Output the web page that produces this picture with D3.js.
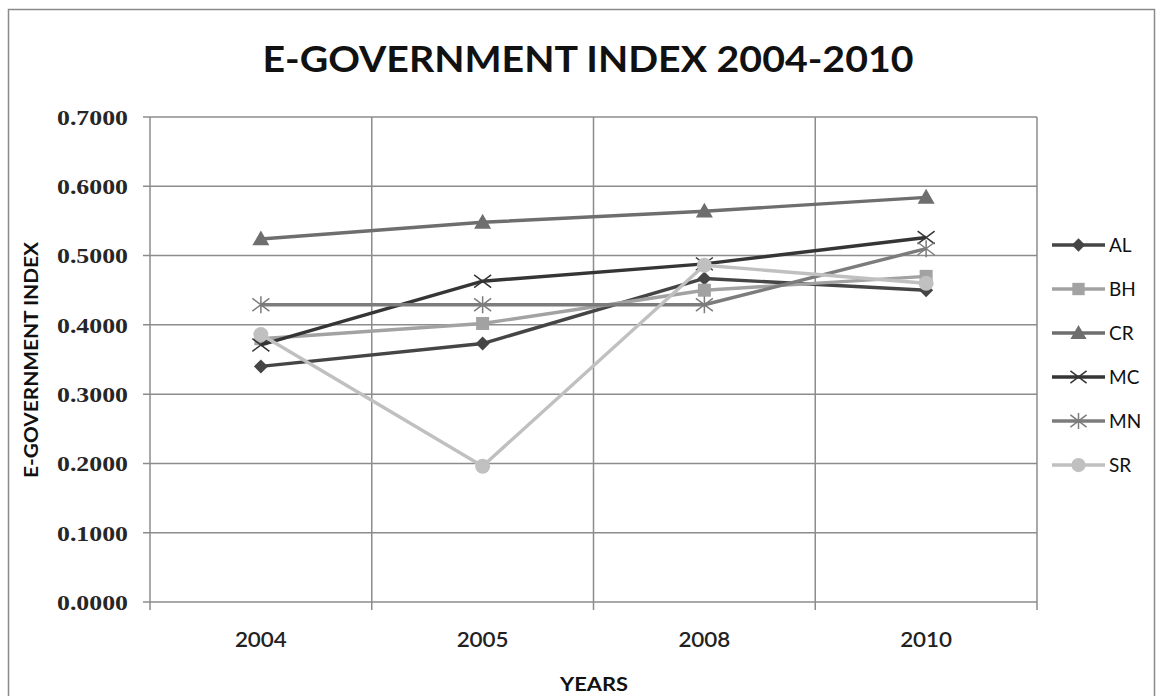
<!DOCTYPE html>
<html><head><meta charset="utf-8">
<script src="https://cdn.jsdelivr.net/npm/d3@7"></script>
<style>body{margin:0;background:#fff;}svg{display:block;}</style>
</head><body>
<script>
const years = ["2004","2005","2008","2010"];
const yTicks = [0,0.1,0.2,0.3,0.4,0.5,0.6,0.7];
const seriesNames = ["AL","BH","CR","MC","MN","SR"];
const AL = [0.340, 0.373, 0.467, 0.450];
const BH = [0.380, 0.402, 0.450, 0.470];
const CR = [0.524, 0.548, 0.564, 0.584];
const MC = [0.371, 0.463, 0.488, 0.526];
const MN = [0.429, 0.429, 0.429, 0.510];
const SR = [0.386, 0.196, 0.486, 0.460];
const seriesValues = [AL, BH, CR, MC, MN, SR];
const colors = ["#454545","#a2a2a2","#6e6e6e","#353535","#7c7c7c","#c0c0c0"];
const shapes = ["diamond","square","triangle","x","asterisk","circle"];

const W = 1163, H = 696;
const svg = d3.select("body").append("svg").attr("width", W).attr("height", H);
svg.append("rect").attr("x", 8.5).attr("y", 9.5).attr("width", 1146).attr("height", 700)
  .attr("fill", "#fff").attr("stroke", "#8a8a8a").attr("stroke-width", 1.5);

const plot = {left:150, right:1037, top:117, bottom:602};
const x = d3.scaleBand().domain(years).range([plot.left, plot.right]);
const y = d3.scaleLinear().domain([0, 0.7]).range([plot.bottom, plot.top]);

// horizontal gridlines
svg.append("g").selectAll("line").data(yTicks).join("line")
  .attr("x1", plot.left - 7).attr("x2", plot.right)
  .attr("y1", d => y(d)).attr("y2", d => y(d))
  .attr("stroke", "#8c8c8c").attr("stroke-width", 1.5);
// vertical gridlines at band boundaries
const bounds = years.map(d => x(d)).concat([x(years[years.length-1]) + x.bandwidth()]);
svg.append("g").selectAll("line").data(bounds).join("line")
  .attr("x1", d => d).attr("x2", d => d)
  .attr("y1", plot.top).attr("y2", plot.bottom + 8)
  .attr("stroke", "#8c8c8c").attr("stroke-width", 1.5);

// y tick labels
svg.append("g").selectAll("text").data(yTicks).join("text")
  .attr("x", 128).attr("y", d => y(d)).attr("dy", "0.36em")
  .attr("text-anchor", "end")
  .attr("font-family", "'Liberation Serif', 'DejaVu Serif', serif").attr("font-weight", "bold")
  .attr("font-size", 22).attr("fill", "#262626")
  .attr("textLength", 71).attr("lengthAdjust", "spacingAndGlyphs")
  .text(d => d3.format(".4f")(d));

// x tick labels
svg.append("g").selectAll("text").data(years).join("text")
  .attr("x", d => x(d) + x.bandwidth()/2).attr("y", 647)
  .attr("text-anchor", "middle")
  .attr("font-family", "Lato, 'DejaVu Sans', sans-serif").attr("font-weight", "600")
  .attr("font-size", 21).attr("fill", "#222")
  .attr("textLength", 52).attr("lengthAdjust", "spacingAndGlyphs")
  .text(d => d);

// title
svg.append("text").attr("x", 588).attr("y", 72).attr("text-anchor", "middle")
  .attr("font-family", "Lato, 'Open Sans', sans-serif").attr("font-weight", "bold")
  .attr("font-size", 37).attr("fill", "#111")
  .attr("textLength", 651).attr("lengthAdjust", "spacingAndGlyphs")
  .text("E-GOVERNMENT INDEX 2004-2010");

// axis titles
svg.append("text").attr("x", 594).attr("y", 691).attr("text-anchor", "middle")
  .attr("font-family", "Lato, 'Open Sans', sans-serif").attr("font-weight", "bold")
  .attr("font-size", 18).attr("fill", "#111")
  .attr("textLength", 68).attr("lengthAdjust", "spacingAndGlyphs")
  .text("YEARS");
svg.append("text").attr("transform", "translate(38,360) rotate(-90)").attr("text-anchor", "middle")
  .attr("font-family", "Lato, 'Open Sans', sans-serif").attr("font-weight", "bold")
  .attr("font-size", 18).attr("fill", "#111")
  .attr("textLength", 236).attr("lengthAdjust", "spacingAndGlyphs")
  .text("E-GOVERNMENT INDEX");

function drawMarker(g, shape, color, cx, cy, s) {
  s = s || 1;
  if (shape === "diamond") {
    const r = 7*s;
    g.append("path").attr("d", `M${cx},${cy-r}L${cx+r},${cy}L${cx},${cy+r}L${cx-r},${cy}Z`).attr("fill", color);
  } else if (shape === "square") {
    const r = 6.5*s;
    g.append("rect").attr("x", cx-r).attr("y", cy-r).attr("width", 2*r).attr("height", 2*r).attr("fill", color);
  } else if (shape === "triangle") {
    const r = 8.5*s;
    g.append("path").attr("d", `M${cx},${cy-r}L${cx+r},${cy+r*0.75}L${cx-r},${cy+r*0.75}Z`).attr("fill", color);
  } else if (shape === "x") {
    const r = 8.5*s;
    g.append("path").attr("d", `M${cx-r},${cy-r*0.75}L${cx+r},${cy+r*0.75}M${cx-r},${cy+r*0.75}L${cx+r},${cy-r*0.75}`)
      .attr("stroke", color).attr("stroke-width", 1.5).attr("fill", "none");
  } else if (shape === "asterisk") {
    const r = 8.5*s;
    g.append("path").attr("d", `M${cx-r},${cy-r*0.75}L${cx+r},${cy+r*0.75}M${cx-r},${cy+r*0.75}L${cx+r},${cy-r*0.75}M${cx},${cy-r}L${cx},${cy+r}`)
      .attr("stroke", color).attr("stroke-width", 1.5).attr("fill", "none");
  } else if (shape === "circle") {
    g.append("circle").attr("cx", cx).attr("cy", cy).attr("r", 7.5*s).attr("fill", color);
  }
}

const line = d3.line().x((d,i) => x(years[i]) + x.bandwidth()/2).y(d => y(d));
seriesNames.forEach((name, si) => {
  const g = svg.append("g");
  g.append("path").datum(seriesValues[si]).attr("d", line)
    .attr("fill", "none").attr("stroke", colors[si]).attr("stroke-width", 3.4)
    .attr("stroke-linejoin", "round");
  seriesValues[si].forEach((v, i) => {
    drawMarker(g, shapes[si], colors[si], x(years[i]) + x.bandwidth()/2, y(v));
  });
});

// legend
const legY = d3.scalePoint().domain(seriesNames).range([245, 465]);
seriesNames.forEach((name, si) => {
  const g = svg.append("g");
  const ly = legY(name);
  g.append("line").attr("x1", 1052).attr("x2", 1105).attr("y1", ly).attr("y2", ly)
    .attr("stroke", colors[si]).attr("stroke-width", 3.4);
  drawMarker(g, shapes[si], colors[si], 1078.5, ly, 0.95);
  g.append("text").attr("x", 1109).attr("y", ly).attr("dy", "0.36em")
    .attr("font-family", "Lato, 'Open Sans', sans-serif").attr("font-size", 19).attr("fill", "#111")
    .text(name);
});
</script>
</body></html>
